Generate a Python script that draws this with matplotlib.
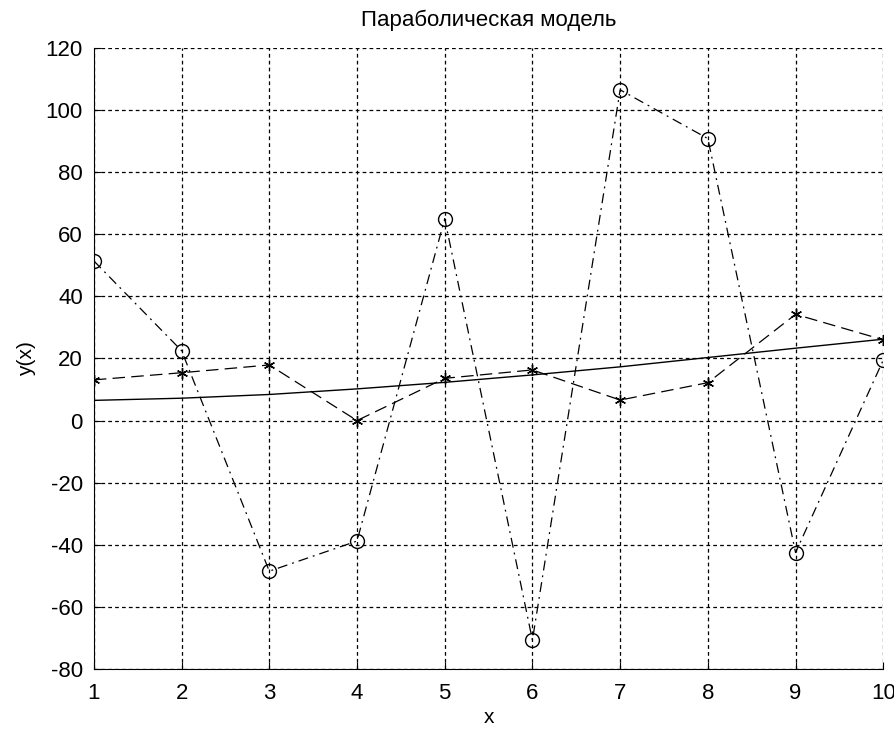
import matplotlib.pyplot as plt
import numpy as np

plt.rcParams.update({'font.family': 'Liberation Sans', 'axes.unicode_minus': False})

x = np.arange(1, 11)
y_obs = [51.4, 22.5, -48.5, -38.8, 65.0, -70.7, 106.5, 90.8, -42.5, 19.5]
y_star = [13.1, 15.4, 17.9, 0.0, 13.6, 16.3, 6.6, 12.2, 34.2, 26.0]
y_par = [6.5, 7.2, 8.4, 10.2, 12.3, 14.7, 17.3, 20.3, 23.3, 26.2]

fig = plt.figure(figsize=(8.94, 7.29), dpi=100)
ax = fig.add_axes([0.105, 0.0823, 0.883, 0.852])

ax.plot(x, y_obs, color='k', linestyle=(0, (8, 4, 1.5, 4)), linewidth=0.9,
        marker='o', markersize=10, markerfacecolor='none', markeredgewidth=1)
ax.plot(x, y_star, color='k', linestyle=(0, (10, 5)), linewidth=0.9,
        marker=(6, 2, 0), markersize=8, markeredgewidth=1)
ax.plot(x, y_par, color='k', linestyle='-', linewidth=1)

ax.set_xlim(1, 10)
ax.set_ylim(-80, 120)
ax.set_xticks(x)
ax.set_yticks(np.arange(-80, 121, 20))
ax.grid(True, color='k', linestyle=(0, (3, 2.5)), linewidth=0.9)
ax.tick_params(direction='in', length=5, labelsize=16, colors='k')
ax.tick_params(axis='x', pad=10)
ax.tick_params(axis='y', pad=8)
for s in ['top', 'right']:
    ax.spines[s].set_visible(False)

ax.set_title('Параболическая модель', fontsize=16, pad=16)
ax.set_xlabel('x', fontsize=15, labelpad=3)
ax.set_ylabel('y(x)', fontsize=15, labelpad=7)

plt.savefig('out.png', dpi=100)
